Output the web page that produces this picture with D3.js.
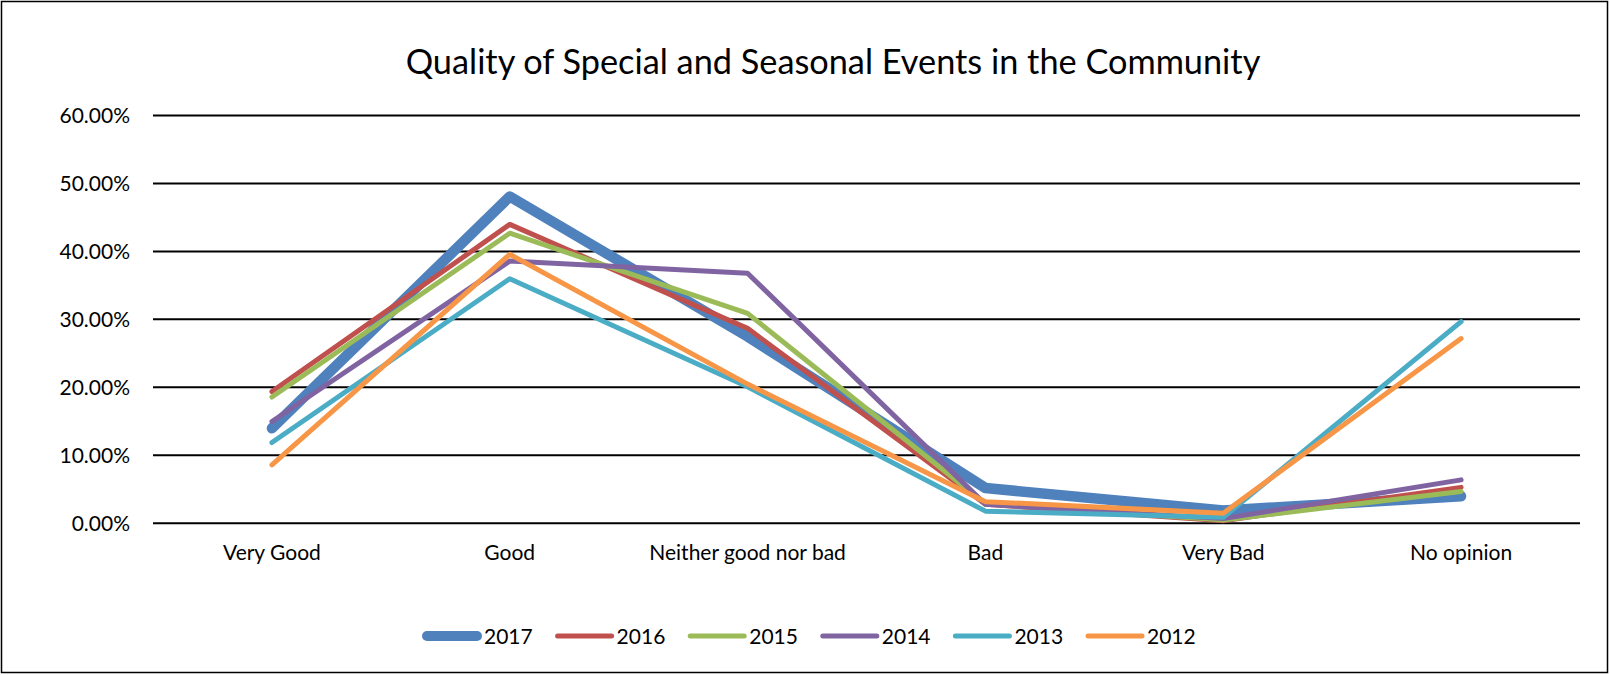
<!DOCTYPE html>
<meta charset="utf-8">
<script src="https://cdn.jsdelivr.net/npm/d3@7"></script>
<style>
body { margin: 0; background: #fff; }
text { font-family: Lato, "Open Sans", sans-serif; fill: #000; }
.grid line { stroke: #000; stroke-width: 2px; }
.grid path { display: none; }
.series { fill: none; stroke-linecap: round; stroke-linejoin: round; }
</style>
<body>
<script>

let width = 1610,
    height = 675;

let categories = ['Very Good', 'Good', 'Neither good nor bad', 'Bad', 'Very Bad', 'No opinion'];
let years = ['2017', '2016', '2015', '2014', '2013', '2012'];
let colors = ['#4f81bd', '#c0504d', '#9bbb59', '#8064a2', '#4bacc6', '#f79646'];
let yTicks = [0, 0.1, 0.2, 0.3, 0.4, 0.5, 0.6];

let v2017 = [0.139, 0.480, 0.274, 0.051, 0.018, 0.039];
let v2016 = [0.193, 0.439, 0.286, 0.027, 0.003, 0.052];
let v2015 = [0.185, 0.426, 0.308, 0.028, 0.004, 0.046];
let v2014 = [0.149, 0.385, 0.367, 0.027, 0.006, 0.063];
let v2013 = [0.118, 0.359, 0.200, 0.017, 0.008, 0.296];
let v2012 = [0.085, 0.395, 0.204, 0.031, 0.014, 0.271];

let values = [v2017, v2016, v2015, v2014, v2013, v2012];

let svg = d3.select("body").append("svg")
    .attr("width", width)
    .attr("height", height);

// outer frame
svg.append("rect")
    .attr("x", 1.5).attr("y", 1.5)
    .attr("width", width - 4).attr("height", height - 4)
    .attr("fill", "#fff")
    .attr("stroke", "#000")
    .attr("stroke-width", 1.5);

let x = d3.scaleBand()
    .domain(categories)
    .range([153, 1580]);

let y = d3.scaleLinear()
    .domain([0, 0.6])
    .range([522.7, 115]);

svg.append("text")
    .attr("x", 833)
    .attr("y", 74)
    .attr("text-anchor", "middle")
    .style("font-size", "34.3px")
    .text("Quality of Special and Seasonal Events in the Community");

// gridlines + y labels
let yAxis = svg.append("g")
    .attr("class", "grid")
    .attr("transform", "translate(153,0)")
    .call(d3.axisLeft(y)
        .tickValues(yTicks)
        .tickSize(-(1580 - 153))
        .tickPadding(23)
        .tickFormat(d3.format(".2%")));
yAxis.selectAll("text")
    .style("font-size", "21px")
    .attr("dy", "0.36em");

// category labels
svg.append("g")
    .selectAll("text")
    .data(categories)
    .enter().append("text")
    .attr("x", function(d) { return x(d) + x.bandwidth() / 2; })
    .attr("y", 560)
    .attr("text-anchor", "middle")
    .style("font-size", "21px")
    .text(function(d) { return d; });

let line = d3.line()
    .x(function(d, i) { return x(categories[i]) + x.bandwidth() / 2; })
    .y(function(d) { return y(d); });

svg.append("g")
    .selectAll("path")
    .data(values)
    .enter().append("path")
    .attr("class", "series")
    .attr("d", line)
    .attr("stroke", function(d, i) { return colors[i]; })
    .attr("stroke-width", function(d, i) { return i === 0 ? 10.5 : 5; });

// legend
let legend = svg.append("g")
    .selectAll("g")
    .data(years)
    .enter().append("g")
    .attr("transform", function(d, i) { return "translate(" + (422 + i * 132.6) + ",636)"; });

legend.append("line")
    .attr("x1", function(d, i) { return i === 0 ? 5 : 3; })
    .attr("x2", function(d, i) { return i === 0 ? 55 : 57; })
    .attr("stroke", function(d, i) { return colors[i]; })
    .attr("stroke-width", function(d, i) { return i === 0 ? 10 : 5; })
    .attr("stroke-linecap", "round");

legend.append("text")
    .attr("x", 62)
    .attr("y", 8)
    .style("font-size", "21px")
    .text(function(d) { return d; });

</script>
